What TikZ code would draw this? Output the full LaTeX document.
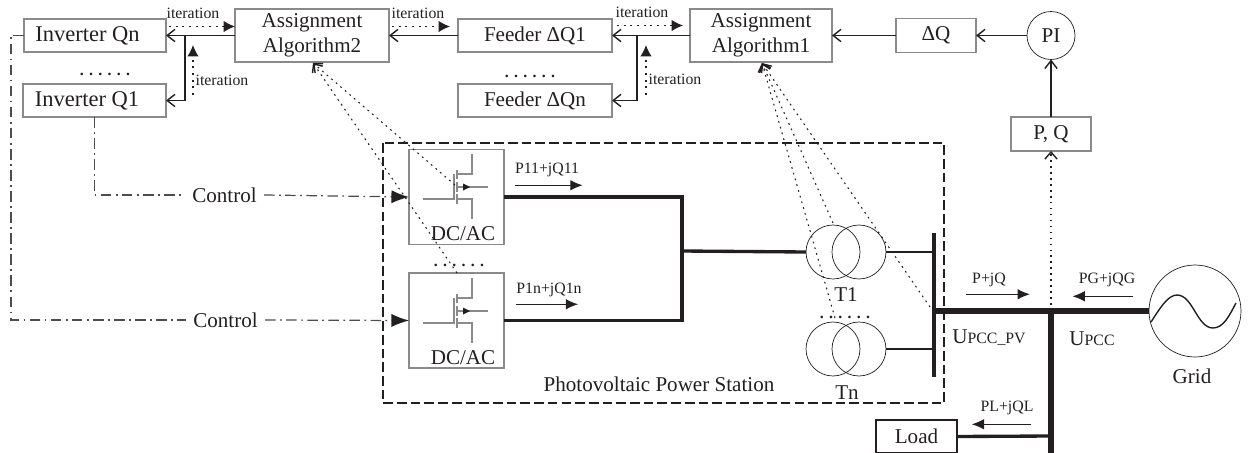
\documentclass[tikz,border=0pt]{standalone}
\usepackage{fontspec}
\setmainfont{Liberation Serif}
\usetikzlibrary{arrows.meta}

\definecolor{inkc}{HTML}{231F20}
\definecolor{edgec}{HTML}{8A8A8A}

\tikzset{
    box/.style={draw=edgec, line width=0.7pt, outer sep=0pt, inner sep=0pt, align=center, text=inkc,
        font=\fontsize{12}{14.5}\selectfont},
    ring/.style={circle, draw=inkc, line width=0.4pt, outer sep=0pt, inner sep=0pt},
    lbl/.style={inner sep=0pt, text=inkc, font=\fontsize{12}{14}\selectfont},
    smalllbl/.style={inner sep=0pt, text=inkc, font=\fontsize{9}{11}\selectfont},
    dots/.style={inner sep=0pt, text=inkc, font=\fontsize{9}{9}\bfseries\selectfont},
    wire/.style={draw=inkc, line width=0.8pt, -{Straight Barb[length=4.5pt,width=7pt]}},
    plainwire/.style={draw=inkc, line width=1.4pt},
    power/.style={draw=inkc, line width=1.9pt},
    bus/.style={draw=inkc, line width=3.2pt},
    iter/.style={draw=inkc, line width=0.7pt, dash pattern=on 1.2pt off 2.6pt, -{Latex[length=6.5pt,width=6.5pt]}},
    probe/.style={draw=inkc, line width=0.6pt, dash pattern=on 1pt off 2.4pt, -{Straight Barb[length=4pt,width=7pt,line width=0.8pt]}},
    ctrl/.style={draw=inkc!80, line width=0.7pt, dash pattern=on 6pt off 2.5pt on 1pt off 2.5pt},
    ctrltip/.style={ctrl, -{Latex[length=10pt,width=7.5pt,color=inkc]}},
    flow/.style={draw=inkc, line width=0.6pt, -{Latex[length=7pt,width=6pt]}}
}

\begin{document}
\begin{tikzpicture}[x=0.02cm, y=-0.02cm]
    \useasboundingbox (0,0) rectangle (1248,453);

    % Top row of controllers
    \node[box, font=\fontsize{12.8}{15}\selectfont, minimum width=2.84cm, minimum height=0.66cm] (invn) at (95,35.5) {Inverter Qn\rule{8.5pt}{0pt}};
    \node[box, font=\fontsize{12.8}{15}\selectfont, minimum width=2.86cm, minimum height=0.66cm] (invone) at (94.5,100.5) {Inverter Q1\rule{8.5pt}{0pt}};
    \node[box, minimum width=3.08cm, minimum height=1.06cm] (algtwo) at (312,35.5) {Assignment\\Algorithm2};
    \node[box, minimum width=3.08cm, minimum height=0.66cm] (feedone) at (535,35.5) {Feeder ΔQ1};
    \node[box, minimum width=3.08cm, minimum height=0.66cm] (feedn) at (535,100.5) {Feeder ΔQn};
    \node[box, minimum width=2.84cm, minimum height=1.06cm] (algone) at (761,35.5) {Assignment\\Algorithm1};
    \node[box, minimum width=1.6cm, minimum height=0.68cm] (dq) at (936,35.5) {ΔQ};
    \node[ring, minimum size=0.96cm, font=\fontsize{12}{14}\selectfont, text=inkc] (pi) at (1051,35.5) {PI};
    \node[box, minimum width=1.6cm, minimum height=0.68cm] (pq) at (1051,134) {P, Q};

    \node[dots] (dotsinv) at (105,74) {. . . . . .};
    \node[dots] (dotsfeed) at (530,76) {. . . . . .};

    % Photovoltaic station frame
    \draw[draw=inkc, line width=1pt, dash pattern=on 5.5pt off 2.3pt] (383,143) rectangle (944,403);
    \node[lbl] (station) at (659,384) {Photovoltaic Power Station};

    % Converters
    \node[box, minimum width=1.9cm, minimum height=1.9cm] (dcone) at (456.5,197) {};
    \node[box, minimum width=1.9cm, minimum height=1.9cm] (dcn) at (456.5,320.5) {};
    \node[lbl] (dconelbl) at (463,234) {DC/AC};
    \node[lbl] (dcnlbl) at (463,358) {DC/AC};
    \node[dots] (dotsdc) at (459,265) {. . . . . .};

    % Switch symbols
    \foreach \dy in {0,-124} {
        \begin{scope}[yshift=\dy*-0.02cm, draw=edgec, line width=0.6pt]
            \draw (423,323) -- (454,323) -- (454,298);
            \draw (457,294) -- (457,303);
            \draw (457,306) -- (457,316);
            \draw (457,318) -- (457,328);
            \draw (457,298) -- (472,298) -- (472,278);
            \draw (457,323) -- (472,323) -- (472,343);
            \draw (457,311) -- (488,311);
            \fill[inkc] (470,311) -- (463,307.5) -- (463,314.5) -- cycle;
        \end{scope}
    }

    % Transformers
    \node[ring, minimum size=1.08cm] (tonea) at (833,252) {};
    \node[ring, minimum size=1.08cm] (toneb) at (859,252) {};
    \node[ring, minimum size=1.08cm] (tna) at (833,349) {};
    \node[ring, minimum size=1.08cm] (tnb) at (859,349) {};
    \node[lbl] (tonelbl) at (846,295) {T1};
    \node[lbl] (tnlbl) at (847,393) {Tn};
    \node[dots] (dotstr) at (845,317) {. . . . . .};

    % Grid and load
    \node[ring, minimum size=1.84cm] (grid) at (1195,311) {};
    \draw[draw=inkc, line width=0.8pt] (1151,322) .. controls (1160,308) and (1168,295) .. (1177,295)
        .. controls (1193,295) and (1197,328) .. (1213,328) .. controls (1224,328) and (1230,314) .. (1236,303);
    \node[lbl] (gridlbl) at (1192,376) {Grid};
    \node[box, draw=inkc, line width=1.2pt, minimum width=1.62cm, minimum height=0.66cm] (load) at (916.5,436.5) {Load};

    % Buses
    \coordinate (pvtop) at (934,233);
    \coordinate (pvbot) at (934,377);
    \coordinate (pvmid) at (934,311);
    \coordinate (pcc) at (1051,311);
    \coordinate (pccbot) at (1051,453);
    \coordinate (loadjoin) at (1051,436);
    \coordinate (merge) at (682,251);
    \draw[power] (pvtop) -- (pvbot);
    \draw[bus] (pvmid) -- (pcc) -- (grid.west);
    \draw[bus] (pcc) -- (pccbot);
    \draw[power] (load.east) -- (loadjoin);
    \draw[power] (dcone.east) -| (merge);
    \draw[power] (dcn.east) -| (merge);
    \draw[power] (merge) -- (tonea.west);
    \draw[plainwire] (toneb.east) -- (toneb.east -| pvtop);
    \draw[plainwire] (tnb.east) -- (tnb.east -| pvtop);

    % Solid control wires
    \coordinate (brtwo) at (185,35.5);
    \coordinate (brone) at (637,35.5);
    \draw[wire] (algtwo.west) -- (invn.east);
    \draw[wire] (brtwo) |- (invone.east);
    \draw[wire] (feedone.west) -- (algtwo.east);
    \draw[wire] (algone.west) -- (feedone.east);
    \draw[wire] (brone) |- (feedn.east);
    \draw[wire] (dq.west) -- (algone.east);
    \draw[wire] (pi.west) -- (dq.east);
    \draw[wire] (pq.north) -- (pi.south);

    % Iteration arrows
    \draw[iter] ([yshift=0.18cm]invn.east) ++(3,0) -- ([yshift=0.18cm]algtwo.west);
    \draw[iter] ([yshift=0.18cm]algtwo.east) ++(3,0) -- ([yshift=0.18cm,xshift=-0.16cm]feedone.west);
    \draw[iter] ([yshift=0.2cm,xshift=0.1cm]feedone.east) -- ([yshift=0.2cm,xshift=-0.14cm]algone.west);
    \coordinate (iterafrom) at (193,95);
    \coordinate (iterato) at (193,45);
    \coordinate (iterbfrom) at (646,95);
    \coordinate (iterbto) at (646,45);
    \draw[iter] (iterafrom) -- (iterato);
    \draw[iter] (iterbfrom) -- (iterbto);
    \node[smalllbl] (itera) at (193,13) {iteration};
    \node[smalllbl] (iterb) at (418,13) {iteration};
    \node[smalllbl] (iterc) at (642,12) {iteration};
    \node[smalllbl] (iterd) at (222,80) {iteration};
    \node[smalllbl] (itere) at (675,79) {iteration};

    % Measurement paths
    \coordinate (tgttwo) at (313,63);
    \coordinate (tgtone) at (762,63);
    \coordinate (gatea) at (455,185);
    \coordinate (gateb) at (457,273);
    \coordinate (tra) at (833,223);
    \coordinate (trb) at (835,318);
    \coordinate (trc) at (930,307);
    \draw[probe] (gatea) -- (tgttwo);
    \draw[probe] (gateb) -- (tgttwo);
    \draw[probe] (tra) -- (tgtone);
    \draw[probe] (trb) -- (tgtone);
    \draw[probe] (trc) -- (tgtone);
    \draw[probe] (pcc) -- (pq.south);

    % Control lines
    \node[lbl, inner xsep=4pt] (ctrlone) at (224.5,195) {Control};
    \node[lbl, inner xsep=4pt] (ctrln) at (225.5,320) {Control};
    \coordinate (leftcorner) at (11,35.5);
    \draw[ctrl] (invone.south) |- (ctrlone.west);
    \draw[ctrl] (invn.west) -- (leftcorner) |- (ctrln.west);
    \draw[ctrltip] (ctrlone.east) -- (dcone.west);
    \draw[ctrltip] (ctrln.east) -- (dcn.west);

    % Power flow labels
    \node[smalllbl] (pflowa) at (547,170) {P11+jQ11};
    \node[smalllbl] (pflowb) at (549,290) {P1n+jQ1n};
    \node[smalllbl] (pflowc) at (989,280) {P+jQ};
    \node[smalllbl] (pflowd) at (1107,280) {PG+jQG};
    \node[smalllbl] (pflowe) at (1007,408) {PL+jQL};
    \draw[flow] (pflowa.south west) ++(0,8) -- ++(68,0);
    \draw[flow] (pflowb.south west) ++(0,7) -- ++(62,0);
    \draw[flow] (pflowc.south west) ++(-6,7) -- ++(64,0);
    \draw[flow] (pflowd.south east) ++(-3,9) -- ++(-60,0);
    \draw[flow] (pflowe.south east) ++(-3,9) -- ++(-59,0);

    % Voltage labels
    \node[lbl] (upccpv) at (989,338) {U{\fontsize{9}{11}\selectfont PCC\_PV}};
    \node[lbl] (upcc) at (1092,339) {U{\fontsize{9}{11}\selectfont PCC}};
\end{tikzpicture}
\end{document}
